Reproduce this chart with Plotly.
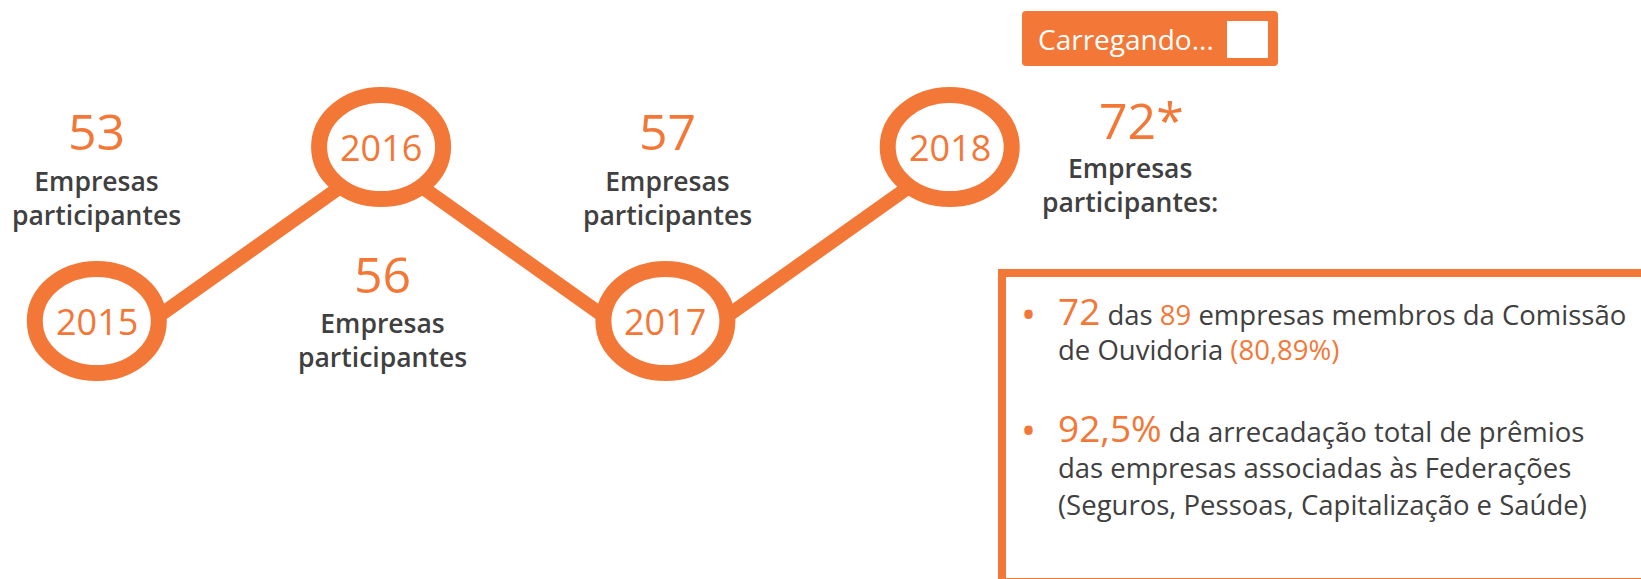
import plotly.graph_objects as go

# ---------------- data ----------------
years = [2015, 2016, 2017, 2018]
year_labels = ["2015", "2016", "2017", "2018"]
company_counts = ["53", "56", "57", "72*"]
count_captions = ["Empresas<br>participantes", "Empresas<br>participantes",
                  "Empresas<br>participantes", "Empresas<br>participantes:"]
members_2018 = "72"
members_total = "89"
members_share = "(80,89%)"
premium_share = "92,5%"
loading_label = "Carregando..."

# ---------------- style ----------------
W, H = 1641, 579
ORANGE = "#F37736"
DARK = "#404040"
FONT = "Open Sans"

# zig-zag structure: alternate low / high
level = [i % 2 for i in range(len(years))]

# axis calibration (pixel anchors)
X0_PX, X_STEP = 96.8, 284.3
NODE_LOW_PX, NODE_HIGH_PX = 321, 147
LINE_LOW_PX, LINE_HIGH_PX = 360, 158


def x_range():
    lo = years[0] - X0_PX / X_STEP
    hi = lo + W / X_STEP
    return [lo, hi]


def y_range(low_px, high_px):
    unit = 1.0 / (low_px - high_px)
    ymax = 1 + high_px * unit
    ymin = 0 - (H - low_px) * unit
    return [ymin, ymax]


def px_x(px):
    return px / W


def px_y(py):
    return 1 - py / H


fig = go.Figure()

# connecting zig-zag line (its own scale, hidden)
fig.add_trace(go.Scatter(
    x=years, y=level, mode="lines", yaxis="y2",
    line=dict(color=ORANGE, width=14), hoverinfo="skip", showlegend=False))

# invisible node trace on main axes
fig.add_trace(go.Scatter(
    x=years, y=level, mode="markers", marker=dict(size=1, opacity=0),
    hoverinfo="skip", showlegend=False))

shapes = []
annotations = []

# ellipse rings around the years
for yr, lv, lab in zip(years, level, year_labels):
    shapes.append(dict(
        type="circle", xref="x", yref="y",
        xsizemode="pixel", ysizemode="pixel",
        xanchor=yr, yanchor=lv,
        x0=-62, x1=62, y0=-52, y1=52,
        line=dict(color=ORANGE, width=16), fillcolor="white", layer="above"))
    annotations.append(dict(
        x=yr, y=lv, xref="x", yref="y", text=lab, showarrow=False,
        xanchor="center", yanchor="middle",
        font=dict(family=FONT, size=36, color=ORANGE)))

# count labels: placement offsets (pixels)
placement = {
    0: dict(num=(0, 190), cap=(0, 123)),
    1: dict(num=(1, -127), cap=(1, -193)),
    2: dict(num=(2, 190), cap=(2, 123)),
    3: dict(num=(192, 27), cap=(180, -38)),
}
for i, (yr, lv) in enumerate(zip(years, level)):
    p = placement[i]
    annotations.append(dict(
        x=yr, y=lv, xref="x", yref="y", text=company_counts[i], showarrow=False,
        xanchor="center", yanchor="middle", xshift=p["num"][0], yshift=p["num"][1],
        font=dict(family=FONT, size=50, color=ORANGE)))
    annotations.append(dict(
        x=yr, y=lv, xref="x", yref="y", text=count_captions[i], showarrow=False,
        xanchor="center", yanchor="middle", xshift=p["cap"][0], yshift=p["cap"][1],
        align="center",
        font=dict(family=FONT, size=26.5, color=DARK, weight=600)))

# "Carregando..." button
bx0, bx1, by0, by1, r = 1022, 1278, 11, 66, 4
path = (f"M {px_x(bx0 + r)} {px_y(by0)} L {px_x(bx1 - r)} {px_y(by0)} "
        f"Q {px_x(bx1)} {px_y(by0)} {px_x(bx1)} {px_y(by0 + r)} "
        f"L {px_x(bx1)} {px_y(by1 - r)} Q {px_x(bx1)} {px_y(by1)} {px_x(bx1 - r)} {px_y(by1)} "
        f"L {px_x(bx0 + r)} {px_y(by1)} Q {px_x(bx0)} {px_y(by1)} {px_x(bx0)} {px_y(by1 - r)} "
        f"L {px_x(bx0)} {px_y(by0 + r)} Q {px_x(bx0)} {px_y(by0)} {px_x(bx0 + r)} {px_y(by0)} Z")
shapes.append(dict(type="path", xref="paper", yref="paper", path=path,
                   fillcolor=ORANGE, line=dict(width=0), layer="above"))
shapes.append(dict(type="rect", xref="paper", yref="paper",
                   x0=px_x(1227), x1=px_x(1268), y0=px_y(58), y1=px_y(21),
                   fillcolor="white", line=dict(width=0), layer="above"))
annotations.append(dict(
    x=px_x(1036), y=px_y(39), xref="paper", yref="paper", text=loading_label,
    showarrow=False, xanchor="left", yanchor="middle",
    font=dict(family=FONT, size=28, color="white", weight=500)))

# info box
shapes.append(dict(type="rect", xref="paper", yref="paper",
                   x0=px_x(1002), x1=px_x(1700), y0=px_y(582), y1=px_y(273),
                   fillcolor="rgba(0,0,0,0)", line=dict(color=ORANGE, width=8),
                   layer="above"))

big = f'<span style="font-size:37px;color:{ORANGE}">%s</span>'
org = f'<span style="color:{ORANGE}">%s</span>'
box_lines = [
    (310, big % members_2018 + " das " + org % members_total + " empresas membros da Comissão"),
    (349.5, "de Ouvidoria " + org % members_share),
    (427, big % premium_share + " da arrecadação total de prêmios"),
    (467.5, "das empresas associadas às Federações"),
    (504.5, "(Seguros, Pessoas, Capitalização e Saúde)"),
]
for cy, txt in box_lines:
    annotations.append(dict(
        x=px_x(1056), y=px_y(cy), xref="paper", yref="paper", text=txt,
        showarrow=False, xanchor="left", yanchor="middle",
        font=dict(family=FONT, size=27.5, color=DARK, weight=500)))
for cy in (313, 429):
    annotations.append(dict(
        x=px_x(1028), y=px_y(cy), xref="paper", yref="paper", text="•",
        showarrow=False, xanchor="center", yanchor="middle",
        font=dict(family=FONT, size=40, color=ORANGE)))

fig.update_layout(
    width=W, height=H, autosize=False,
    margin=dict(l=0, r=0, t=0, b=0, pad=0),
    paper_bgcolor="white", plot_bgcolor="white",
    showlegend=False,
    xaxis=dict(range=x_range(), visible=False, fixedrange=True),
    yaxis=dict(range=y_range(NODE_LOW_PX, NODE_HIGH_PX), visible=False, fixedrange=True),
    yaxis2=dict(range=y_range(LINE_LOW_PX, LINE_HIGH_PX), visible=False,
                overlaying="y", fixedrange=True),
    shapes=shapes, annotations=annotations,
)

fig.write_html("out.html", config={"displayModeBar": False},
               post_script="document.body.style.margin='0';document.body.style.overflow='hidden';")
